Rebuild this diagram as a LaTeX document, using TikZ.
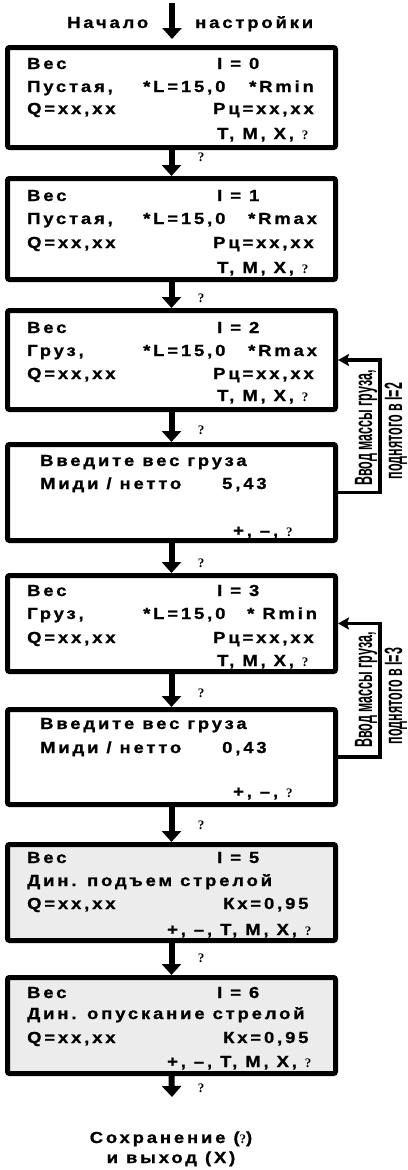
\documentclass[tikz,border=0pt]{standalone}
\usepackage{fontspec}
\usepackage{graphicx}
\usetikzlibrary{arrows.meta}
\setmainfont{Liberation Sans}
\newfontfamily\lcdf[LetterSpace=18,FakeStretch=1.15,FakeBold=1]{Liberation Sans}
\newfontfamily\qmf{Liberation Serif}
\newfontfamily\sidef{Liberation Sans}
\newcommand\qm{{\qmf\bfseries\fontsize{13}{13}\selectfont ?}}
\newcommand\sidetxt[1]{\scalebox{0.5}[1]{\sidef\bfseries\fontsize{25}{25}\selectfont #1}}
\newcommand\tx[4]{\node[txt] (#1) at (#2,#3) {#4};}
\tikzset{
  txt/.style={inner sep=0pt, anchor=base west, font=\lcdf\bfseries\fontsize{16}{18}\selectfont},
  ctxt/.style={txt, anchor=base},
  box/.style={draw, line width=5pt, rounded corners=2pt, minimum width=328pt, inner sep=0pt},
  gbox/.style={box, fill=gray!15},
  flow/.style={line width=6pt, -{Triangle[length=11pt,width=19pt]}},
  side/.style={line width=3.5pt, -{Stealth[length=11pt,width=12pt,inset=2pt]}},
  qlab/.style={inner sep=0pt, font=\qmf\bfseries\fontsize{13}{13}\selectfont},
  stxt/.style={inner sep=0pt, rotate=90, anchor=base}
}
\begin{document}
\begin{tikzpicture}[x=1pt,y=-1pt]
\useasboundingbox (0,0) rectangle (407,1170);
% title
\tx{t0a}{67}{28}{Начало}
\tx{t0b}{195}{28}{настройки}
\coordinate (ts) at (172,3);
\coordinate (te) at (172,39);
% boxes
\node[box, minimum height=100pt] (b1) at (171.5,97.5) {};
\node[box, minimum height=101pt] (b2) at (171.5,229) {};
\node[box, minimum height=99pt] (b3) at (171.5,360) {};
\node[box, minimum height=96pt] (b4) at (171.5,492.5) {};
\node[box, minimum height=96pt] (b5) at (171.5,623.5) {};
\node[box, minimum height=95pt] (b6) at (171.5,757) {};
\node[gbox, minimum height=96pt] (b7) at (171.5,892.5) {};
\node[gbox, minimum height=96pt] (b8) at (171.5,1025.5) {};
\coordinate (fe) at (172,1097);
% flow arrows
\draw[flow] (ts) -- (te);
\draw[flow] (b1) -- (b2);
\draw[flow] (b2) -- (b3);
\draw[flow] (b3) -- (b4);
\draw[flow] (b4) -- (b5);
\draw[flow] (b5) -- (b6);
\draw[flow] (b6) -- (b7);
\draw[flow] (b7) -- (b8);
\draw[flow] (b8.south) -- (fe);
\node[qlab] (q1) at (201,157) {?};
\node[qlab] (q2) at (201,298) {?};
\node[qlab] (q3) at (201,430) {?};
\node[qlab] (q4) at (201,563) {?};
\node[qlab] (q5) at (201,693) {?};
\node[qlab] (q6) at (201,825) {?};
\node[qlab] (q7) at (201,958) {?};
\node[qlab] (q8) at (201,1088) {?};
% side connectors
\draw[side] (b4.east) -- ++(42,0) |- (b3.east);
\draw[side] (b6.east) -- ++(42,0) |- (b5.east);
\node[stxt] (s1a) at (372,428) {\sidetxt{Ввод массы груза,}};
\node[stxt] (s1b) at (402,431) {\sidetxt{поднятого в I=2}};
\node[stxt] (s2a) at (372,690) {\sidetxt{Ввод массы груза,}};
\node[stxt] (s2b) at (402,696) {\sidetxt{поднятого в I=3}};
% box 1
\tx{a1}{27}{69}{Вес}
\tx{a2}{217}{69}{I = 0}
\tx{a3}{27}{92}{Пустая,}
\tx{a4}{143}{92}{*L=15,0}
\tx{a5}{249}{92}{*Rmin}
\tx{a6}{27}{114}{Q=xx,xx}
\tx{a7}{213}{114}{Рц=xx,xx}
\tx{a8}{217}{139}{T, M, X, \qm}
% box 2
\tx{c1}{27}{201}{Вес}
\tx{c2}{217}{201}{I = 1}
\tx{c3}{27}{224}{Пустая,}
\tx{c4}{143}{224}{*L=15,0}
\tx{c5}{248}{224}{*Rmax}
\tx{c6}{27}{248}{Q=xx,xx}
\tx{c7}{213}{248}{Рц=xx,xx}
\tx{c8}{217}{273}{T, M, X, \qm}
% box 3
\tx{d1}{27}{333}{Вес}
\tx{d2}{217}{333}{I = 2}
\tx{d3}{27}{356}{Груз,}
\tx{d4}{143}{356}{*L=15,0}
\tx{d5}{248}{356}{*Rmax}
\tx{d6}{27}{379}{Q=xx,xx}
\tx{d7}{213}{379}{Рц=xx,xx}
\tx{d8}{217}{401}{T, M, X, \qm}
% box 4
\tx{e1}{40}{466}{Введите вес груза}
\tx{e2}{40}{489}{Миди / нетто}
\tx{e3}{222}{489}{5,43}
\tx{e4}{233}{536}{+, –, \qm}
% box 5
\tx{f1}{27}{596}{Вес}
\tx{f2}{217}{596}{I = 3}
\tx{f3}{27}{619}{Груз,}
\tx{f4}{143}{619}{*L=15,0}
\tx{f5}{247}{619}{* Rmin}
\tx{f6}{27}{643}{Q=xx,xx}
\tx{f7}{213}{643}{Рц=xx,xx}
\tx{f8}{217}{666}{T, M, X, \qm}
% box 6
\tx{g1}{40}{729}{Введите вес груза}
\tx{g2}{40}{753}{Миди / нетто}
\tx{g3}{222}{753}{0,43}
\tx{g4}{233}{797}{+, –, \qm}
% box 7
\tx{h1}{27}{863}{Вес}
\tx{h2}{217}{863}{I = 5}
\tx{h3}{27}{886}{Дин. подъем стрелой}
\tx{h4}{27}{909}{Q=xx,xx}
\tx{h5}{223}{909}{Кх=0,95}
\tx{h6}{167}{935}{+, –, T, M, X, \qm}
% box 8
\tx{k1}{27}{998}{Вес}
\tx{k2}{217}{998}{I = 6}
\tx{k3}{27}{1019}{Дин. опускание стрелой}
\tx{k4}{27}{1043}{Q=xx,xx}
\tx{k5}{223}{1043}{Кх=0,95}
\tx{k6}{167}{1067}{+, –, T, M, X, \qm}
% end
\node[ctxt] (z1) at (171,1143) {Сохранение (\qm)};
\node[ctxt] (z2) at (171,1163) {и выход (X)};
\end{tikzpicture}
\end{document}
